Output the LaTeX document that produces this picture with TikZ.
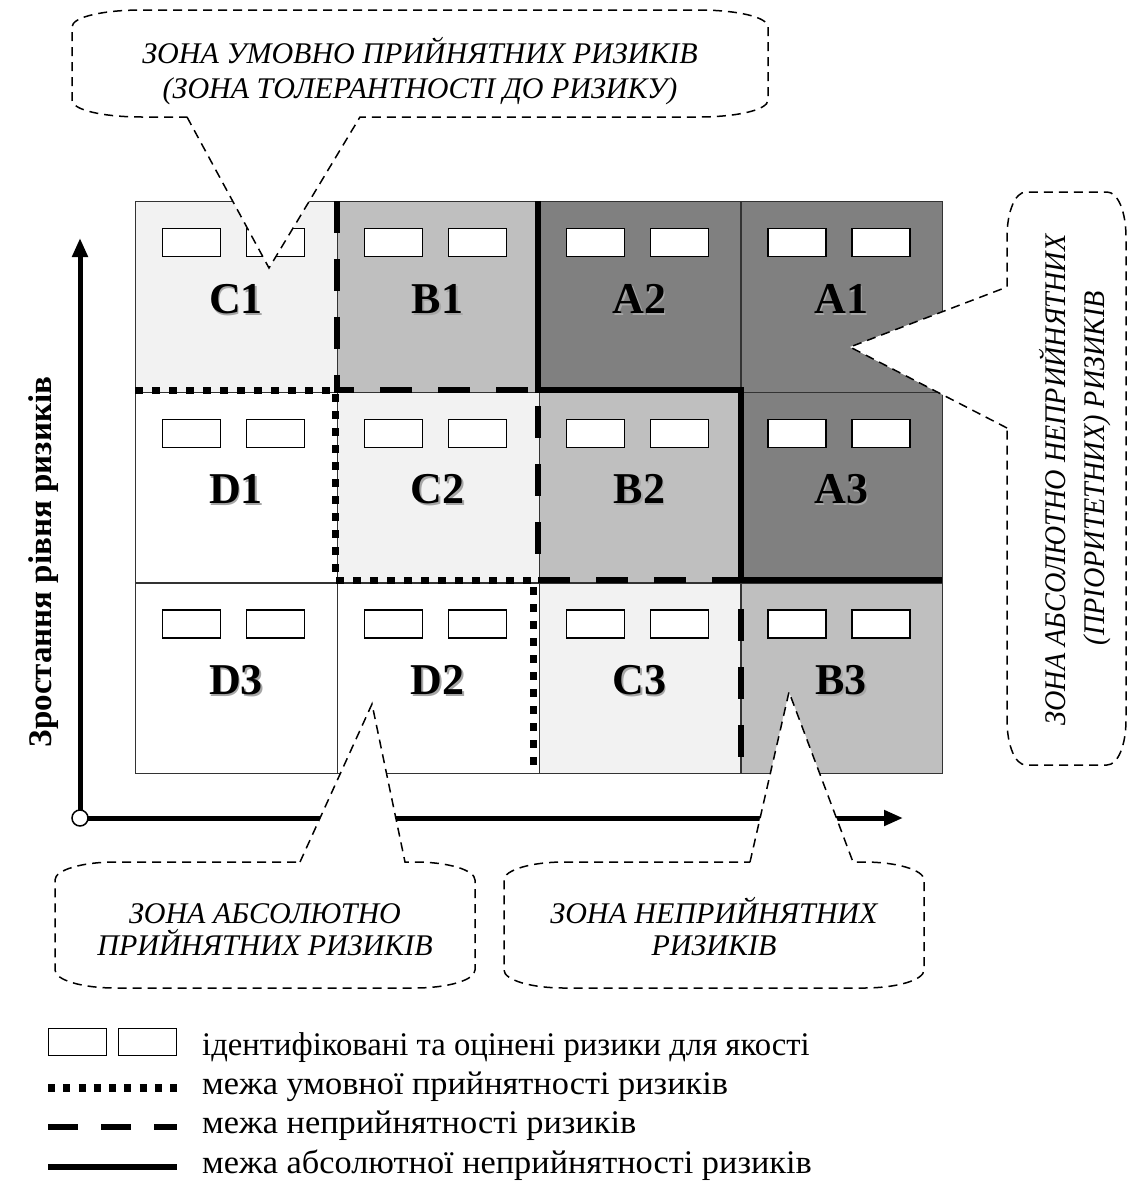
\documentclass[tikz,border=0pt]{standalone}
\usepackage{fontspec}
\setmainfont{Liberation Serif}
\newfontfamily\narrowserif[FakeStretch=0.94]{Liberation Serif}
\newfontfamily\legendserif[FakeStretch=1.04]{Liberation Serif}
\newfontfamily\legendserifb[FakeStretch=0.99]{Liberation Serif}
\usetikzlibrary{arrows.meta}
\definecolor{zoneC}{HTML}{F2F2F2}
\definecolor{zoneB}{HTML}{BFBFBF}
\definecolor{zoneA}{HTML}{808080}
\definecolor{zoneD}{HTML}{FFFFFF}
\definecolor{edgegray}{HTML}{333333}
\tikzset{
 cellbox/.style={draw=edgegray, line width=1.3pt, inner sep=0pt, minimum width=201.75pt, minimum height=190.67pt, anchor=north west},
 riskbox/.style={draw=black, line width=1.4pt, fill=white, inner sep=0pt, minimum width=58pt, minimum height=28pt, anchor=north west},
 celllabel/.style={font=\fontsize{44}{44}\selectfont\bfseries, inner sep=0pt, anchor=base},
 shadowlabel/.style={celllabel, text=black!35},
 dotline/.style={line width=7pt, dash pattern=on 8pt off 9pt},
 dashline/.style={line width=6.5pt, dash pattern=on 32pt off 26pt},
 solidline/.style={line width=6.5pt},
 callout/.style={draw=black, fill=white, line width=1.5pt, dash pattern=on 9pt off 6pt},
 callouttext/.style={font=\fontsize{30}{35}\selectfont\itshape, inner sep=0pt, anchor=base},
 axisline/.style={line width=5pt, -{Triangle[length=19pt,width=15pt]}},
 legendtext/.style={font=\fontsize{33}{33}\legendserif\selectfont, anchor=base west, inner sep=0pt},
 legendbox/.style={draw=black, line width=1.4pt, fill=white, inner sep=0pt, minimum width=58pt, minimum height=27pt, anchor=north west},
}
\begin{document}
\begin{tikzpicture}[x=1pt,y=-1pt]
\useasboundingbox (0,0) rectangle (1128,1192);
% cells
\foreach \c/\r/\lab/\fil in {0/0/C1/zoneC,1/0/B1/zoneB,2/0/A2/zoneA,3/0/A1/zoneA,
  0/1/D1/zoneD,1/1/C2/zoneC,2/1/B2/zoneB,3/1/A3/zoneA,
  0/2/D3/zoneD,1/2/D2/zoneD,2/2/C3/zoneC,3/2/B3/zoneB}{
  \pgfmathsetmacro{\cx}{135+\c*201.75}
  \pgfmathsetmacro{\cy}{201+\r*190.67}
  \node[cellbox, fill=\fil] (cell\lab) at (\cx,\cy) {};
}
\foreach \c/\r/\lab in {0/0/C1,1/0/B1,2/0/A2,3/0/A1,0/1/D1,1/1/C2,2/1/B2,3/1/A3,0/2/D3,1/2/D2,2/2/C3,3/2/B3}{
  \pgfmathsetmacro{\cx}{135+\c*201.75}
  \pgfmathsetmacro{\cy}{201+\r*190.67}
  \node[riskbox] (boxa\lab) at (\cx+27,\cy+27) {};
  \node[riskbox] (boxb\lab) at (\cx+111,\cy+27) {};
  \node[shadowlabel] (shd\lab) at (\cx+102.6,\cy+114) {\lab};
  \node[celllabel] (lab\lab) at (\cx+100.9,\cy+112) {\lab};
}
% zone boundaries
\coordinate (d1) at (135,390); \coordinate (d2) at (335,390); \coordinate (d3) at (335,580);
\coordinate (d4) at (533,580); \coordinate (d5) at (533,773);
\draw[dotline] (d1) -- (d2) -- (d3) -- (d4) -- (d5);
\coordinate (e1) at (337,201); \coordinate (e2) at (337,390); \coordinate (e3) at (538,390);
\coordinate (e4) at (538,580); \coordinate (e5) at (741,580); \coordinate (e6) at (741,773);
\draw[dashline] (e1) -- (e2) -- (e3) -- (e4) -- (e5) -- (e6);
\coordinate (s1) at (538,201); \coordinate (s2) at (538,390); \coordinate (s3) at (741,390);
\coordinate (s4) at (741,580); \coordinate (s5) at (942,580);
\draw[solidline] (s1) -- (s2) -- (s3) -- (s4) -- (s5);
% axes
\coordinate (O) at (80,818); \coordinate (Ytip) at (80,238); \coordinate (Xtip) at (903,818);
\draw[axisline] (O) -- (Ytip);
\draw[axisline] (O) -- (Xtip);
\node[circle, draw=black, fill=white, line width=1.5pt, minimum size=16pt, inner sep=0pt] (origin) at (O) {};
\node[rotate=90, font=\fontsize{33}{33}\selectfont\bfseries, inner sep=0pt] (ylabel) at (44,562) {Зростання рівня ризиків};
% top callout
\draw[callout] (187,117) -- (269,268) -- (360,117) -- (698,117)
  .. controls (737,117) and (768,110) .. (768,100) -- (768,27)
  .. controls (768,17) and (737,10) .. (698,10) -- (142,10)
  .. controls (103,10) and (72,17) .. (72,27) -- (72,100)
  .. controls (72,110) and (103,117) .. (142,117) -- cycle;
\node[callouttext] (tt1) at (420,63) {ЗОНА УМОВНО ПРИЙНЯТНИХ РИЗИКІВ};
\node[callouttext] (tt2) at (420,98) {(ЗОНА ТОЛЕРАНТНОСТІ ДО РИЗИКУ)};
% right callout
\draw[callout] (1007,428) -- (850,347) -- (1007,287) -- (1007,237)
  .. controls (1007,212) and (1015,192) .. (1026,192) -- (1107,192)
  .. controls (1118,192) and (1126,212) .. (1126,237) -- (1126,720)
  .. controls (1126,745) and (1118,765) .. (1107,765) -- (1026,765)
  .. controls (1015,765) and (1007,745) .. (1007,720) -- cycle;
\node[callouttext, rotate=90, font=\fontsize{30}{35}\narrowserif\itshape] (rt1) at (1065,480) {ЗОНА АБСОЛЮТНО НЕПРИЙНЯТНИХ};
\node[callouttext, rotate=90, font=\fontsize{30}{35}\narrowserif\itshape] (rt2) at (1104,468) {(ПРІОРИТЕТНИХ) РИЗИКІВ};
% bottom-left callout
\draw[callout] (300,862) -- (372,704) -- (405,862) -- (415,862)
  .. controls (448,862) and (475,870) .. (475,880) -- (475,970)
  .. controls (475,980) and (448,988) .. (415,988) -- (115,988)
  .. controls (82,988) and (55,980) .. (55,970) -- (55,880)
  .. controls (55,870) and (82,862) .. (115,862) -- cycle;
\node[callouttext] (bl1) at (265,923) {ЗОНА АБСОЛЮТНО};
\node[callouttext] (bl2) at (265,955) {ПРИЙНЯТНИХ РИЗИКІВ};
% bottom-right callout
\draw[callout] (750,862) -- (789,692) -- (853,862) -- (864,862)
  .. controls (897,862) and (924,870) .. (924,880) -- (924,970)
  .. controls (924,980) and (897,988) .. (864,988) -- (564,988)
  .. controls (531,988) and (504,980) .. (504,970) -- (504,880)
  .. controls (504,870) and (531,862) .. (564,862) -- cycle;
\node[callouttext] (br1) at (714,923) {ЗОНА НЕПРИЙНЯТНИХ};
\node[callouttext] (br2) at (714,955) {РИЗИКІВ};
% legend
\node[legendbox] (lgboxa) at (48,1028) {};
\node[legendbox] (lgboxb) at (118,1028) {};
\node[legendtext, font=\fontsize{33}{33}\legendserifb\selectfont] (lg1) at (202,1055) {ідентифіковані та оцінені ризики для якості};
\coordinate (la1) at (48,1088); \coordinate (la2) at (177,1088);
\draw[line width=7.5pt, dash pattern=on 7pt off 8.25pt] (la1) -- (la2);
\node[legendtext] (lg2) at (202,1094) {межа умовної прийнятності ризиків};
\coordinate (lb1) at (48,1127); \coordinate (lb2) at (177,1127);
\draw[line width=6.5pt, dash pattern=on 30pt off 23pt] (lb1) -- (lb2);
\node[legendtext] (lg3) at (202,1133) {межа неприйнятності ризиків};
\coordinate (lc1) at (48,1167); \coordinate (lc2) at (177,1167);
\draw[line width=6.5pt] (lc1) -- (lc2);
\node[legendtext] (lg4) at (202,1173) {межа абсолютної неприйнятності ризиків};
\end{tikzpicture}
\end{document}
